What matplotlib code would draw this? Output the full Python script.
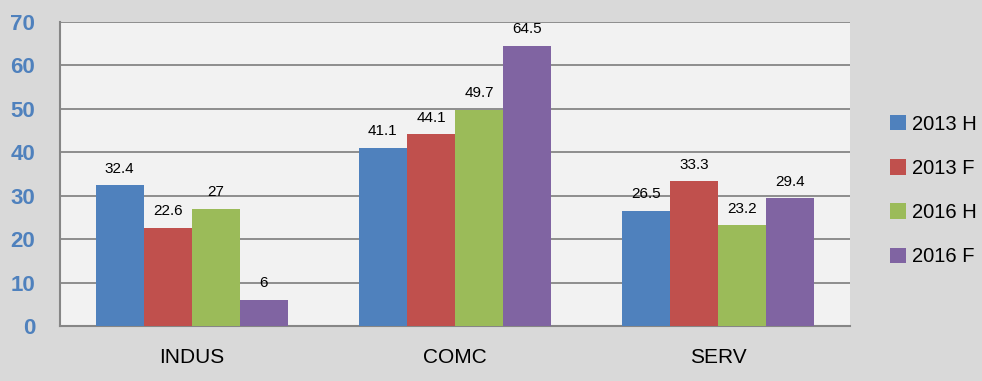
import matplotlib.pyplot as plt
import numpy as np

# chart data
categories = ['INDUS', 'COMC', 'SERV']
series_names = ['2013 H', '2013 F', '2016 H', '2016 F']
values = [
    [32.4, 41.1, 26.5],   # 2013 H
    [22.6, 44.1, 33.3],   # 2013 F
    [27, 49.7, 23.2],     # 2016 H
    [6, 64.5, 29.4],      # 2016 F
]
colors = ['#4f81bd', '#c0504d', '#9bbb59', '#8064a2']
yticks = [0, 10, 20, 30, 40, 50, 60, 70]

plt.rcParams['font.family'] = ['Liberation Sans', 'DejaVu Sans']

fig = plt.figure(figsize=(9.82, 3.81), dpi=100, facecolor='#d9d9d9')
ax = fig.add_axes([60 / 982, 1 - 326 / 381, 790 / 982, 304 / 381])
ax.set_facecolor('#f2f2f2')

x = np.arange(len(categories))
width = 0.1825
for i, (name, vals) in enumerate(zip(series_names, values)):
    pos = x + (i - 1.5) * width
    bars = ax.bar(pos, vals, width, color=colors[i], label=name, zorder=3)
    for b, v in zip(bars, vals):
        ax.annotate(f'{v:g}', (b.get_x() + b.get_width() / 2, v),
                    xytext=(0, 7), textcoords='offset points',
                    ha='center', va='bottom', fontsize=11, color='black')

ax.set_xlim(-0.5, 2.5)
ax.set_ylim(0, 70)
ax.set_yticks(yticks)
ax.set_xticks(x)
ax.set_xticklabels(categories, fontsize=15)
ax.tick_params(axis='y', length=0, pad=18, labelsize=16, labelcolor='#4f81bd')
ax.tick_params(axis='x', length=0, pad=16)
for lbl in ax.get_yticklabels():
    lbl.set_fontweight('bold')

ax.yaxis.grid(True, color='#868686', linewidth=1.3, zorder=0)
ax.set_axisbelow(True)
for side in ['top', 'right']:
    ax.spines[side].set_visible(False)
for side in ['left', 'bottom']:
    ax.spines[side].set_color('#868686')
    ax.spines[side].set_linewidth(1.5)

ax.legend(loc='center left', bbox_to_anchor=(880 / 982, 0.5),
          bbox_transform=fig.transFigure, frameon=False, fontsize=14.5,
          handlelength=0.8, handleheight=0.8, handletextpad=0.3,
          labelspacing=1.25, borderpad=0)

fig.savefig('out.png', dpi=100, facecolor=fig.get_facecolor())
